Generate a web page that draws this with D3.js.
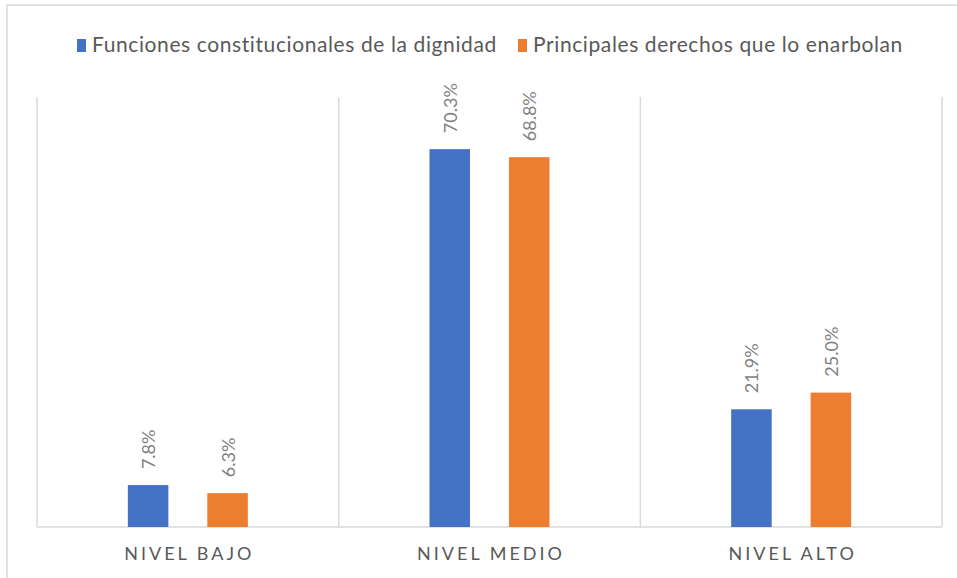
<!DOCTYPE html>
<meta charset="utf-8">
<style>
body { margin: 0; background: #fff; }
svg text { font-family: Lato, "Open Sans", sans-serif; }
.grid line { stroke: #d9d9d9; stroke-width: 1.5; }
.lbl { fill: #7f7f7f; font-size: 18px; }
.cat { fill: #595959; font-size: 18px; letter-spacing: 3px; }
.leg { fill: #595959; font-size: 21px; letter-spacing: 0.6px; }
</style>
<body>
<script src="https://cdn.jsdelivr.net/npm/d3@7"></script>
<script>

var categories = ['NIVEL BAJO', 'NIVEL MEDIO', 'NIVEL ALTO']
var seriesNames = ['Funciones constitucionales de la dignidad', 'Principales derechos que lo enarbolan']
var funciones = [7.8, 70.3, 21.9]
var derechos = [6.3, 68.8, 25.0]
var colors = ['#4472c4', '#ed7d31']

var width = 957
var height = 578
var margin = {top: 97, right: 15, bottom: 51, left: 37}

var svg = d3.select('body').append('svg')
    .attr('width', width)
    .attr('height', height)

// chart frame
svg.append('rect')
    .attr('x', 7).attr('y', 5)
    .attr('width', width).attr('height', height)
    .attr('fill', 'none')
    .attr('stroke', '#d9d9d9')
    .attr('stroke-width', 1.5)

var x = d3.scaleBand()
    .domain(categories)
    .range([margin.left, width - margin.right])

var mid = x.bandwidth() / 2
var x1 = d3.scaleBand()
    .domain([0, 1])
    .range([mid - 60, mid + 60])
    .paddingInner(0.49)

var y = d3.scaleLinear()
    .domain([0, 80])
    .range([height - margin.bottom, margin.top])

// category separators
var grid = svg.append('g').attr('class', 'grid')
var edges = categories.map(function (c) { return x(c) }).concat([x.range()[1]])
grid.selectAll('line.v')
    .data(edges)
    .enter().append('line')
    .attr('x1', function (d) { return d }).attr('x2', function (d) { return d })
    .attr('y1', y(80)).attr('y2', y(0))
grid.append('line')
    .attr('x1', x.range()[0]).attr('x2', x.range()[1])
    .attr('y1', y(0)).attr('y2', y(0))

var rows = []
categories.forEach(function (c, i) {
    rows.push({cat: c, s: 0, v: funciones[i]})
    rows.push({cat: c, s: 1, v: derechos[i]})
})

svg.append('g').selectAll('rect')
    .data(rows)
    .enter().append('rect')
    .attr('x', function (d) { return x(d.cat) + x1(d.s) })
    .attr('width', x1.bandwidth())
    .attr('y', function (d) { return y(d.v) })
    .attr('height', function (d) { return y(0) - y(d.v) })
    .attr('fill', function (d) { return colors[d.s] })

svg.append('g').selectAll('text')
    .data(rows)
    .enter().append('text')
    .attr('class', 'lbl')
    .attr('transform', function (d) {
        var cx = x(d.cat) + x1(d.s) + x1.bandwidth() / 2 + 7
        return 'translate(' + cx + ',' + (y(d.v) - 16) + ') rotate(-90)'
    })
    .text(function (d) { return d.v.toFixed(1) + '%' })

svg.append('g').selectAll('text')
    .data(categories)
    .enter().append('text')
    .attr('class', 'cat')
    .attr('x', function (d) { return x(d) + x.bandwidth() / 2 + 1.5 })
    .attr('y', 560)
    .attr('text-anchor', 'middle')
    .text(function (d) { return d })

// legend
var legX = [77, 518]
var leg = svg.append('g').selectAll('g')
    .data(seriesNames)
    .enter().append('g')
    .attr('transform', function (d, i) { return 'translate(' + legX[i] + ',39)' })
leg.append('rect')
    .attr('width', 9).attr('height', 13)
    .attr('fill', function (d, i) { return colors[i] })
leg.append('text')
    .attr('class', 'leg')
    .attr('x', 15).attr('y', 13)
    .text(function (d) { return d })

</script>
</body>
